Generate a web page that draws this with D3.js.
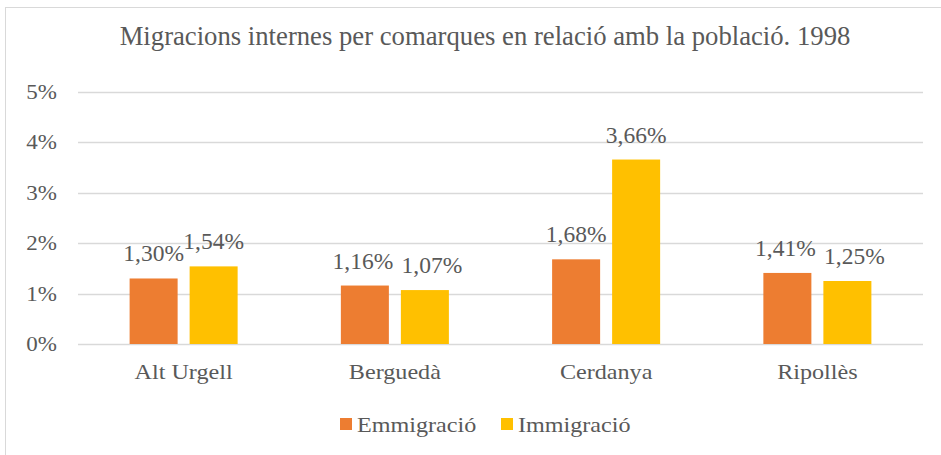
<!DOCTYPE html>
<html lang="ca">
<head>
<meta charset="utf-8">
<script src="https://cdn.jsdelivr.net/npm/d3@7"></script>
<style>
  body { margin: 0; background: #fff; }
  text { font-family: 'Liberation Serif', serif; }
</style>
</head>
<body>
<div id="chart"></div>
<script>
var comarques = ["Alt Urgell", "Berguedà", "Cerdanya", "Ripollès"];
var series = ["Emmigració", "Immigració"];
var emmigracio = [1.30, 1.16, 1.68, 1.41];
var immigracio = [1.54, 1.07, 3.66, 1.25];
var yTicks = [0, 1, 2, 3, 4, 5];
var colours = ["#ED7D31", "#FFC000"];

var width = 941;
var height = 455;
var margin = { top: 92, right: 18, bottom: 111, left: 78 };
var stretch = 1.15; // axis and legend text is a little wider in the original

var svg = d3.select("#chart")
    .append("svg")
    .attr("width", width)
    .attr("height", height);

// chart frame
svg.append("rect")
    .attr("x", 5.5)
    .attr("y", 7.5)
    .attr("width", width - 5)
    .attr("height", height - 7)
    .attr("fill", "#fff")
    .attr("stroke", "#D9D9D9");

var txt = function (sel, size) {
    return sel.style("font-family", "'Liberation Serif', serif")
        .style("font-size", size)
        .attr("fill", "#595959");
};

var place = function (x, y) {
    return "translate(" + x + "," + y + ") scale(" + stretch + ",1)";
};

txt(svg.append("text"), "26.7px")
    .attr("x", 485)
    .attr("y", 45)
    .attr("text-anchor", "middle")
    .text("Migracions internes per comarques en relació amb la població. 1998");

var x0 = d3.scaleBand()
    .domain(comarques)
    .range([margin.left, width - margin.right]);

var x1 = d3.scaleBand()
    .domain(series)
    .range([0, x0.bandwidth()])
    .paddingInner(0.2)
    .paddingOuter(0.86);

var y = d3.scaleLinear()
    .domain([0, 5])
    .range([height - margin.bottom, margin.top]);

// gridlines
svg.append("g")
    .selectAll("line")
    .data(yTicks)
    .enter().append("line")
    .attr("x1", margin.left)
    .attr("x2", width - margin.right)
    .attr("y1", function (d) { return Math.round(y(d)) + 0.5; })
    .attr("y2", function (d) { return Math.round(y(d)) + 0.5; })
    .attr("stroke", "#D9D9D9")
    .attr("stroke-width", 1.5);

txt(svg.append("g")
    .selectAll("text")
    .data(yTicks)
    .enter().append("text"), "20px")
    .attr("transform", function (d) { return place(57, y(d) + 7); })
    .attr("text-anchor", "end")
    .text(function (d) { return d + "%"; });

var rows = comarques.map(function (c, i) {
    return { name: c, values: [emmigracio[i], immigracio[i]] };
});

var fmt = function (v) { return v.toFixed(2).replace(".", ",") + "%"; };

var groups = svg.append("g")
    .selectAll("g")
    .data(rows)
    .enter().append("g")
    .attr("transform", function (d) { return "translate(" + x0(d.name) + ",0)"; });

groups.selectAll("rect")
    .data(function (d) { return d.values.map(function (v, i) { return { s: series[i], v: v, i: i }; }); })
    .enter().append("rect")
    .attr("x", function (d) { return x1(d.s); })
    .attr("y", function (d) { return y(d.v); })
    .attr("width", x1.bandwidth())
    .attr("height", function (d) { return y(0) - y(d.v); })
    .attr("fill", function (d) { return colours[d.i]; });

// labels nudged apart when the two bars are almost the same height
txt(groups.selectAll("text.val")
    .data(function (d) {
        var close = Math.abs(y(d.values[0]) - y(d.values[1])) < 10;
        return d.values.map(function (v, i) {
            return { s: series[i], v: v, dx: close ? (i ? 7 : -2) : 0 };
        });
    })
    .enter().append("text"), "23.5px")
    .attr("class", "val")
    .attr("x", function (d) { return x1(d.s) + x1.bandwidth() / 2 + d.dx; })
    .attr("y", function (d) { return y(d.v) - 17; })
    .attr("text-anchor", "middle")
    .text(function (d) { return fmt(d.v); });

txt(svg.append("g")
    .selectAll("text")
    .data(comarques)
    .enter().append("text"), "21px")
    .attr("transform", function (d) { return place(x0(d) + x0.bandwidth() / 2, 379); })
    .attr("text-anchor", "middle")
    .text(function (d) { return d; });

// legend
var legendX = [340, 501];
var legend = svg.append("g")
    .selectAll("g")
    .data(series)
    .enter().append("g")
    .attr("transform", function (d, i) { return "translate(" + legendX[i] + ",418)"; });

legend.append("rect")
    .attr("width", 12)
    .attr("height", 12)
    .attr("fill", function (d, i) { return colours[i]; });

txt(legend.append("text"), "21px")
    .attr("transform", place(17, 14))
    .text(function (d) { return d; });
</script>
</body>
</html>
